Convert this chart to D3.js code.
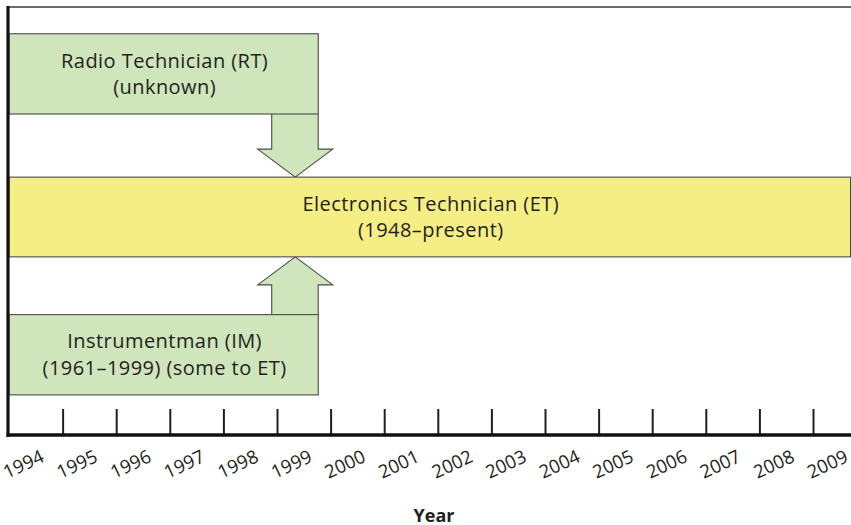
<!DOCTYPE html>
<html>
<head>
<meta charset="utf-8">
<script src="https://cdn.jsdelivr.net/npm/d3@7"></script>
<style>
  html, body { margin: 0; padding: 0; background: #ffffff; }
  svg { display: block; }
</style>
</head>
<body>
<svg id="chart" width="851" height="525"></svg>
<script>
// ---- data ----
const years = [1994, 1995, 1996, 1997, 1998, 1999, 2000, 2001, 2002, 2003, 2004, 2005, 2006, 2007, 2008, 2009];
const yearLabels = ["1994", "1995", "1996", "1997", "1998", "1999", "2000", "2001", "2002", "2003", "2004", "2005", "2006", "2007", "2008", "2009"];
const boxNames = ["Radio Technician (RT)", "Electronics Technician (ET)", "Instrumentman (IM)"];
const boxSubtitles = ["(unknown)", "(1948–present)", "(1961–1999) (some to ET)"];
const boxStart = [1994, 1994, 1994];
const boxEnd = [1999.77, 2009.7, 1999.77];
const boxLaneTop = [0.5, 3.18, 5.75];
const boxLaneBottom = [2.0, 4.67, 7.25];
const boxColors = ["#cfe5bb", "#f5ee85", "#cfe5bb"];
const arrowFrom = [0, 2];
const arrowTo = [1, 1];
const arrowYear = [1999.34, 1999.34];
const axisTitle = "Year";

// ---- layout ----
const svg = d3.select("#chart");
const W = 851, H = 525;
const x = d3.scaleLinear().domain([1994, 2009]).range([9, 813]);
const y = d3.scaleLinear().domain([0, 8]).range([7, 435]);
const xMax = 2009.75;
const font = "'Open Sans', 'Noto Sans', sans-serif";

// top frame line
svg.append("line")
  .attr("x1", x(1994) - 1).attr("x2", x(xMax) + 5)
  .attr("y1", y(0)).attr("y2", y(0))
  .attr("stroke", "#3a3a3a").attr("stroke-width", 1.6);

// arrows (drawn first so box borders lie over the shaft ends)
const shaftL = 23.5, shaftR = 23, headHalf = 37.5, headLen = 28;
arrowFrom.forEach((from, k) => {
  const to = arrowTo[k];
  const cx = x(arrowYear[k]);
  const down = boxLaneTop[from] < boxLaneTop[to];
  const y0 = down ? y(boxLaneBottom[from]) : y(boxLaneTop[from]);
  const y1 = down ? y(boxLaneTop[to]) : y(boxLaneBottom[to]);
  const dir = down ? 1 : -1;
  const yb = y1 - dir * headLen;
  const pts = [
    [cx - shaftL, y0], [cx - shaftL, yb], [cx - headHalf, yb], [cx, y1],
    [cx + headHalf, yb], [cx + shaftR, yb], [cx + shaftR, y0]
  ];
  svg.append("path")
    .attr("d", "M" + pts.map(p => p.join(",")).join("L"))
    .attr("fill", boxColors[from])
    .attr("stroke", "#4a4a4a").attr("stroke-width", 1.1);
});

// boxes
const boxes = svg.append("g").selectAll("g").data(boxNames).join("g");
boxes.append("rect")
  .attr("x", (d, i) => x(boxStart[i]))
  .attr("y", (d, i) => y(boxLaneTop[i]))
  .attr("width", (d, i) => x(boxEnd[i]) - x(boxStart[i]))
  .attr("height", (d, i) => y(boxLaneBottom[i]) - y(boxLaneTop[i]))
  .attr("fill", (d, i) => boxColors[i])
  .attr("stroke", "#4a4a4a").attr("stroke-width", 1.1);

const textAttrs = sel => sel
  .attr("text-anchor", "middle")
  .attr("font-family", font).attr("font-size", 20)
  .attr("letter-spacing", 0.45)
  .attr("fill", "#231f20");
boxes.append("text")
  .attr("x", (d, i) => (x(boxStart[i]) + Math.min(x(boxEnd[i]), W)) / 2 + 1)
  .attr("y", (d, i) => (y(boxLaneTop[i]) + y(boxLaneBottom[i])) / 2 - 6.3)
  .call(textAttrs)
  .text(d => d);
boxes.append("text")
  .attr("x", (d, i) => (x(boxStart[i]) + Math.min(x(boxEnd[i]), W)) / 2 + 1)
  .attr("y", (d, i) => (y(boxLaneTop[i]) + y(boxLaneBottom[i])) / 2 + 20)
  .call(textAttrs)
  .text((d, i) => boxSubtitles[i]);

// x axis
const ax = d3.axisBottom(x)
  .tickValues(years)
  .tickFormat((d, i) => yearLabels[i])
  .tickSizeInner(-26).tickSizeOuter(0).tickPadding(0);
const gx = svg.append("g").attr("transform", `translate(0,${y(8)})`).call(ax);
gx.select(".domain").remove();
gx.selectAll(".tick line").attr("stroke", "#231f20").attr("stroke-width", 2)
  .attr("y2", -26);
gx.selectAll(".tick").filter(d => d === 1994).select("line").remove();
gx.selectAll(".tick text")
  .attr("font-family", font).attr("font-size", 18.5).attr("fill", "#231f20")
  .attr("text-anchor", "start")
  .attr("dy", null)
  .attr("transform", "translate(-2.5,44) rotate(-25)")
  .attr("y", 0).attr("x", 0);

// axes lines (left and bottom)
svg.append("line")
  .attr("x1", x(1994) - 1).attr("x2", x(1994) - 1)
  .attr("y1", y(0) - 1).attr("y2", y(8) + 2)
  .attr("stroke", "#111").attr("stroke-width", 3.2);
svg.append("line")
  .attr("x1", x(1994) - 2.5).attr("x2", x(xMax) + 5)
  .attr("y1", y(8)).attr("y2", y(8))
  .attr("stroke", "#111").attr("stroke-width", 3.5);

// axis title
svg.append("text")
  .attr("x", (x(1994) + W) / 2 + 4).attr("y", 521.5)
  .attr("text-anchor", "middle")
  .attr("font-family", font).attr("font-size", 18).attr("font-weight", "bold").attr("fill", "#231f20")
  .text(axisTitle);
</script>
</body>
</html>
